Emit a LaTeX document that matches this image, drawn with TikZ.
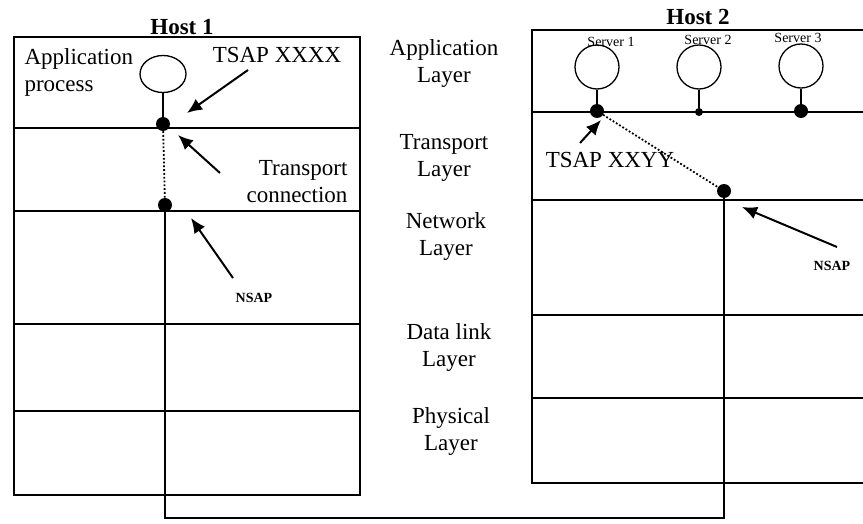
\documentclass[tikz,border=0pt]{standalone}
\usepackage{fontspec}
\setmainfont{Liberation Serif}
\usetikzlibrary{arrows.meta,positioning,shapes.geometric}

\begin{document}
\begin{tikzpicture}[
    x=1pt, y=-1pt,
    font=\fontsize{23}{27}\selectfont,
    layer/.style={line width=1.3pt},
    appproc/.style={
        ellipse,
        draw,
        line width=1.3pt,
        minimum width=46pt,
        minimum height=37pt,
        inner sep=0pt
    },
    server/.style={
        circle,
        draw,
        line width=1.3pt,
        minimum size=44pt,
        inner sep=0pt
    },
    sap/.style={circle, fill, inner sep=0pt, minimum size=14pt},
    smallsap/.style={circle, fill, inner sep=0pt, minimum size=8pt},
    pointer/.style={-{Latex[length=15pt,width=13pt]}, line width=2pt},
    stem/.style={line width=1.3pt},
    conn/.style={dotted, line width=1.8pt},
    hostname/.style={font=\bfseries\fontsize{23}{27}\selectfont},
    servername/.style={font=\fontsize{14}{16}\selectfont},
    nsaplabel/.style={font=\bfseries\fontsize{14}{16}\selectfont}
]
    \useasboundingbox (0,0) rectangle (863,524);

    \draw[layer] (14,37) rectangle (360,495);
    \draw[layer] (14,128) -- (360,128);
    \draw[layer] (14,211) -- (360,211);
    \draw[layer] (14,324) -- (360,324);
    \draw[layer] (14,411) -- (360,411);

    \draw[layer] (863,30) -- (532,30) -- (532,483) -- (863,483);
    \draw[layer] (532,112) -- (863,112);
    \draw[layer] (532,200) -- (863,200);
    \draw[layer] (532,315) -- (863,315);
    \draw[layer] (532,398) -- (863,398);

    \node[hostname] (host1) at (182,27) {Host 1};
    \node[hostname] (host2) at (698,17) {Host 2};

    \node[align=center] (appLayer) at (444,64) {Application\\Layer};
    \node[align=center] (transLayer) at (444,158) {Transport\\Layer};
    \node[align=center] (netLayer) at (446,237) {Network\\Layer};
    \node[align=center] (linkLayer) at (449,348) {Data link\\Layer};
    \node[align=center] (physLayer) at (451,432) {Physical\\Layer};

    \node[anchor=west, align=left] (appname) at (21,72) {Application\\process};
    \node[appproc] (app1) at (163,74) {};
    \node[sap] (tsapA) at (163,124) {};
    \node[sap] (nsapA) at (165,205) {};
    \node (tsap1) at (277,55) {TSAP XXXX};
    \node[anchor=east, align=right] (tconn) at (351,182) {Transport\\connection};
    \node[nsaplabel] (nsap1) at (254,298) {NSAP};

    \node[server] (srv1) at (597,67) {};
    \node[server] (srv2) at (699,67) {};
    \node[server] (srv3) at (801,66) {};
    \node[servername] (srv1name) at (611,42) {Server 1};
    \node[servername] (srv2name) at (708,40) {Server 2};
    \node[servername] (srv3name) at (798,38) {Server 3};
    \node[sap] (tsapB) at (597,111) {};
    \node[smallsap] (port2) at (699,112) {};
    \node[sap] (port3) at (801,111) {};
    \node[sap] (nsapB) at (724,191) {};
    \node (tsap2) at (610,160) {TSAP XXYY};
    \node[nsaplabel] (nsap2) at (832,266) {NSAP};

    \draw[stem] (app1.south) -- (tsapA);
    \draw[conn] (tsapA) -- (nsapA);
    \draw[stem] (srv1.south) -- (tsapB);
    \draw[stem] (srv2.south) -- (port2);
    \draw[stem] (srv3.south) -- (port3);
    \draw[conn] (tsapB) -- (nsapB);

    \coordinate (wire) at (0,518);
    \draw[stem] (nsapA) -- (nsapA |- wire) -- (nsapB |- wire) -- (nsapB);

    \coordinate (tsap1tail) at (248,70);
    \coordinate (tsap1tip) at (187,113);
    \coordinate (conntail) at (220,173);
    \coordinate (conntip) at (178,135);
    \coordinate (nsap1tail) at (233,278);
    \coordinate (nsap1tip) at (191,218);
    \coordinate (tsap2tail) at (580,143);
    \coordinate (tsap2tip) at (601,120);
    \coordinate (nsap2tail) at (837,247);
    \coordinate (nsap2tip) at (742,207);

    \draw[pointer] (tsap1tail) -- (tsap1tip);
    \draw[pointer] (conntail) -- (conntip);
    \draw[pointer] (nsap1tail) -- (nsap1tip);
    \draw[pointer] (tsap2tail) -- (tsap2tip);
    \draw[pointer] (nsap2tail) -- (nsap2tip);
\end{tikzpicture}
\end{document}
